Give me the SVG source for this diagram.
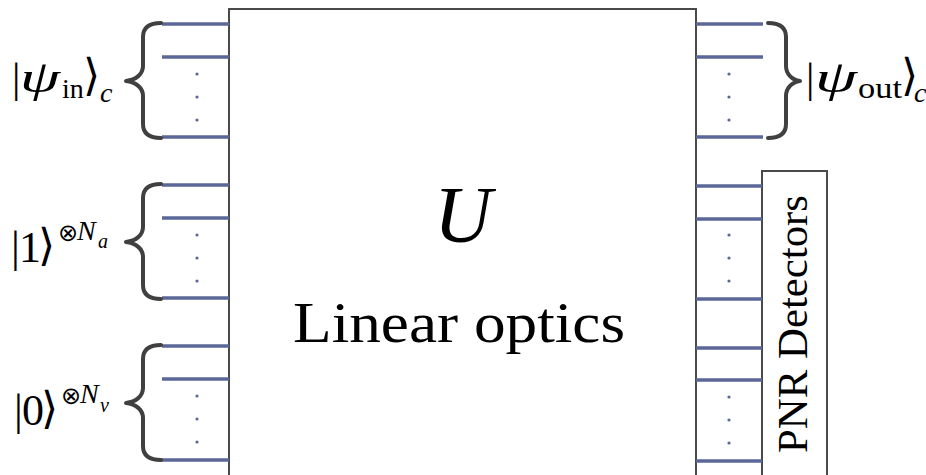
<svg xmlns="http://www.w3.org/2000/svg" width="926" height="475" viewBox="0 0 926 475">
<style>
.box{fill:#fff;stroke:#4a4a4a;stroke-width:2}
.wire{stroke:#5a6797;stroke-width:3.5;fill:none}
.dot{fill:#5a6797}
.brace{fill:none;stroke:#404040;stroke-width:4;stroke-linecap:round;stroke-linejoin:round}
.t{font-family:"Liberation Serif","DejaVu Serif",serif;fill:#000}
.k{font-family:"DejaVu Sans","DejaVu Serif",sans-serif;fill:#000}
.i{font-style:italic}
</style>
<defs>
<path id="lbrace" class="brace" d="M18,0 C7,0 0,4 0,14 L0,43 C0,51 -7,57 -17,58 C-7,59 0,65 0,73 L0,101 C0,111 7,115 18,115"/>
<path id="rbrace" class="brace" d="M-18,0 C-7,0 0,4 0,14 L0,43 C0,51 6,57 14,58 C6,59 0,65 0,73 L0,101 C0,111 -7,115 -18,115"/>
<g id="dots3"><circle cx="0" cy="0" r="1.6" class="dot"/><circle cx="0" cy="23" r="1.6" class="dot"/><circle cx="0" cy="46" r="1.6" class="dot"/></g>
</defs>

<g id="linear-optics">
<rect class="box" x="229" y="9" width="467" height="500"/>
<text class="t i" x="463" y="242" font-size="80" text-anchor="middle">U</text>
<text class="t" x="293" y="342" font-size="58" textLength="332" lengthAdjust="spacingAndGlyphs">Linear optics</text>
</g>

<g id="pnr-detectors">
<rect class="box" x="762" y="171" width="65" height="340"/>
<text class="t" transform="translate(807,453) rotate(-90)" font-size="43" textLength="258" lengthAdjust="spacingAndGlyphs">PNR Detectors</text>
</g>

<g id="connectors">
<g id="left-wires">
<line class="wire" x1="162" y1="24" x2="229" y2="24"/>
<line class="wire" x1="162" y1="57" x2="229" y2="57"/>
<line class="wire" x1="162" y1="137" x2="229" y2="137"/>
<line class="wire" x1="162" y1="185" x2="229" y2="185"/>
<line class="wire" x1="162" y1="218" x2="229" y2="218"/>
<line class="wire" x1="162" y1="298" x2="229" y2="298"/>
<line class="wire" x1="162" y1="346" x2="229" y2="346"/>
<line class="wire" x1="162" y1="379" x2="229" y2="379"/>
<line class="wire" x1="162" y1="460" x2="229" y2="460"/>
<use href="#dots3" x="197" y="74"/>
<use href="#dots3" x="197" y="235"/>
<use href="#dots3" x="197" y="396"/>
</g>
<g id="right-wires">
<line class="wire" x1="696" y1="24" x2="763" y2="24"/>
<line class="wire" x1="696" y1="57" x2="763" y2="57"/>
<line class="wire" x1="696" y1="137" x2="763" y2="137"/>
<line class="wire" x1="696" y1="186" x2="762" y2="186"/>
<line class="wire" x1="696" y1="219" x2="762" y2="219"/>
<line class="wire" x1="696" y1="299" x2="762" y2="299"/>
<line class="wire" x1="696" y1="348" x2="762" y2="348"/>
<line class="wire" x1="696" y1="380" x2="762" y2="380"/>
<line class="wire" x1="696" y1="461" x2="762" y2="461"/>
<use href="#dots3" x="729" y="74"/>
<use href="#dots3" x="729" y="235"/>
<use href="#dots3" x="729" y="397"/>
</g>
</g>

<g id="psi-in">
<use href="#lbrace" x="143" y="23"/>
<text class="t" x="12" y="92" font-size="42">|</text>
<text class="t i" x="20" y="92" font-size="44" textLength="40" lengthAdjust="spacingAndGlyphs">ψ</text>
<text class="t" x="62" y="98" font-size="28">in</text>
<text class="k" x="83" y="90" font-size="44">⟩</text>
<text class="t i" x="100" y="102" font-size="28">c</text>
</g>

<g id="ancilla-ones">
<use href="#lbrace" x="143" y="184"/>
<text class="t" x="11" y="262" font-size="44">|</text>
<text class="t" x="19" y="262" font-size="44">1</text>
<text class="k" x="38" y="260" font-size="44">⟩</text>
<text class="k" x="58" y="241" font-size="24">⊗</text>
<text class="t i" x="77" y="240" font-size="28">N</text>
<text class="t i" x="98" y="248" font-size="20">a</text>
</g>

<g id="vacuum-zeros">
<use href="#lbrace" x="143" y="345"/>
<text class="t" x="14" y="425" font-size="44">|</text>
<text class="t" x="22" y="425" font-size="44">0</text>
<text class="k" x="41" y="423" font-size="44">⟩</text>
<text class="k" x="61" y="404" font-size="24">⊗</text>
<text class="t i" x="80" y="403" font-size="28">N</text>
<text class="t i" x="100" y="412" font-size="20">ν</text>
</g>

<g id="psi-out">
<use href="#rbrace" x="786" y="23"/>
<text class="t" x="806" y="92" font-size="42">|</text>
<text class="t i" x="815" y="92" font-size="44" textLength="42" lengthAdjust="spacingAndGlyphs">ψ</text>
<text class="t" x="858" y="98" font-size="30" textLength="44" lengthAdjust="spacingAndGlyphs">out</text>
<text class="k" x="901" y="90" font-size="44">⟩</text>
<text class="t i" x="914" y="102" font-size="28">c</text>
</g>
</svg>
